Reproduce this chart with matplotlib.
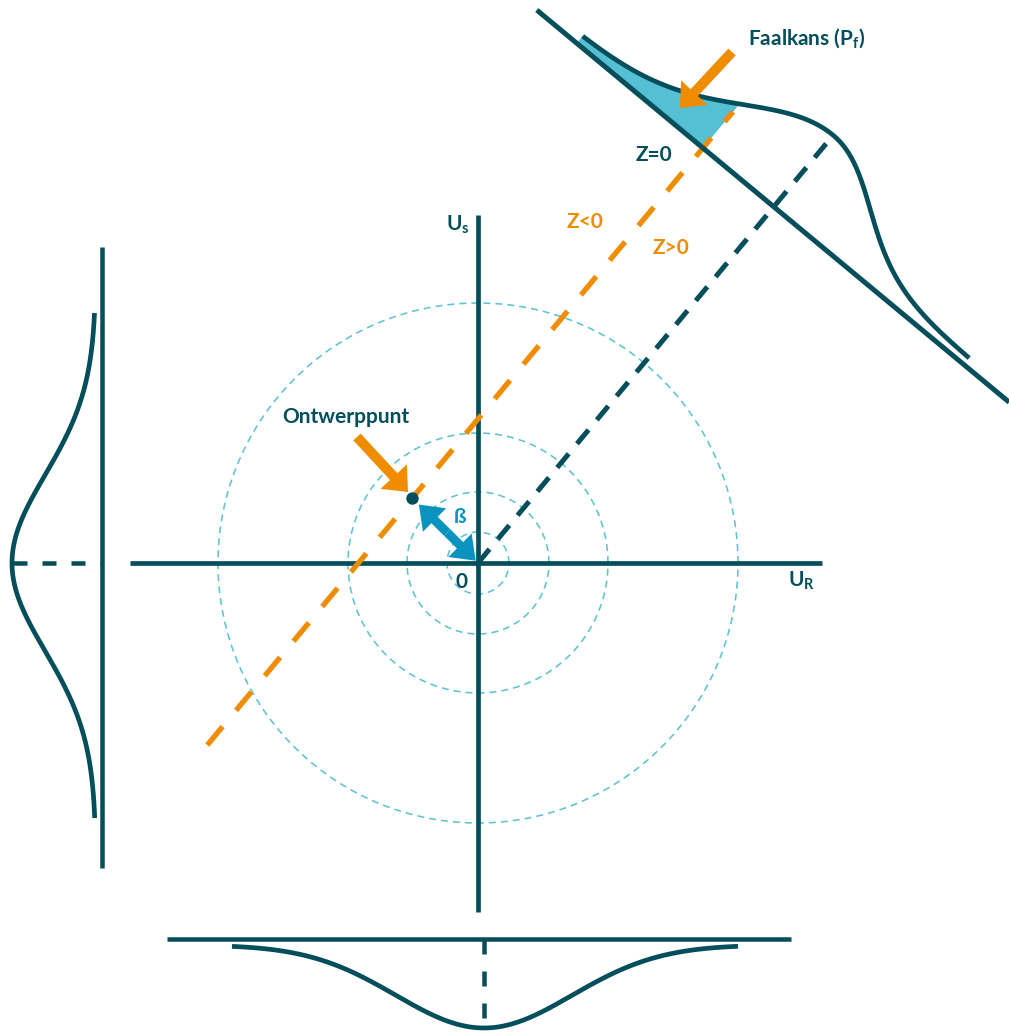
import numpy as np
import matplotlib.pyplot as plt

plt.rcParams['font.family'] = ['Lato', 'DejaVu Sans']
plt.rcParams['mathtext.fontset'] = 'custom'
plt.rcParams['mathtext.rm'] = 'Lato:bold'
plt.rcParams['mathtext.it'] = 'Lato:bold'
plt.rcParams['lines.scale_dashes'] = False

DARK = '#034e5b'
ORANGE = '#f08c00'
CYAN = '#5ec3d4'
FILL = '#55bfd3'
BLUE = '#0b93bf'

PT = 0.72  # 1 pixel in points at dpi 100

# u-space (units ~ pixels, origin = centre of the circles)
circle_radii = [31, 71, 130, 260]
axis_x_range = [-348, 344]
axis_y_range = [-349, 348]
beta = 92              # distance origin -> Z=0 line
beta_angle = 50.3      # direction of the projection line (degrees)
design_shift = 8       # design point position along the Z=0 line
z_line_range = [-313, 510]
proj_len = 555

# marginal distributions
marg_offset = 376
left_line_range = [-305, 316]
left_curve_range = [-255, 250]
bottom_line_range = [-311, 313]
bottom_curve_range = [-252, 254]
bottom_centre = 6
marg_peak = 90
marg_tail = 6
marg_sigma = 88

# rotated Z distribution
z_axis_dist = 463
z_axis_range = [-308, 306]
z_curve_range = [-256, 247]
z_peak = 93
z_tail = 8
z_sigma_left = 88
z_sigma_right = 76

# annotation arrows (tail, tip)
ontwerp_arrow = [(-121, 126), (-70, 71)]
faal_arrow = [(254, 511), (202, 455)]


def bell(x, peak, tail, sl, sr=None):
    sr = sl if sr is None else sr
    s = np.where(x < 0, sl, sr)
    return tail + (peak - tail) * np.exp(-x**2 / (2 * s**2))


fig = plt.figure(figsize=(10.09, 10.32), dpi=100)
ax = fig.add_axes([0, 0, 1, 1])
ax.set_xlim(-478, 531)
ax.set_ylim(-469, 563)
ax.axis('off')

# circles
tt = np.linspace(0, 2 * np.pi, 400)
for r in circle_radii:
    ax.plot(r * np.cos(tt), r * np.sin(tt), color=CYAN, lw=1.6 * PT,
            dashes=(7 * PT, 5 * PT), zorder=1)

# main axes
ax.plot(axis_x_range, [0, 0], color=DARK, lw=4.7 * PT, solid_capstyle='butt', zorder=3)
ax.plot([0, 0], axis_y_range, color=DARK, lw=4.7 * PT, solid_capstyle='butt', zorder=3)

# left marginal
ax.plot([-marg_offset] * 2, left_line_range, color=DARK, lw=4.5 * PT, solid_capstyle='butt')
yy = np.linspace(*left_curve_range, 300)
ax.plot(-marg_offset - bell(yy, marg_peak, marg_tail, marg_sigma), yy,
        color=DARK, lw=4.7 * PT, solid_capstyle='butt')
ax.plot([-marg_offset - marg_peak + 1, -marg_offset], [0, 0], color=DARK,
        lw=4.5 * PT, dashes=(14 * PT, 15 * PT))

# bottom marginal
ax.plot(bottom_line_range, [-marg_offset] * 2, color=DARK, lw=4.5 * PT, solid_capstyle='butt')
xx = np.linspace(*bottom_curve_range, 300)
ax.plot(xx + bottom_centre, -marg_offset - bell(xx, marg_peak - 1, marg_tail, marg_sigma),
        color=DARK, lw=4.7 * PT, solid_capstyle='butt')
ax.plot([bottom_centre] * 2, [-marg_offset, -marg_offset - marg_peak + 1], color=DARK,
        lw=4.5 * PT, dashes=(15 * PT, 17 * PT))

# rotated frame
th = np.radians(beta_angle)
n = np.array([np.cos(th), np.sin(th)])
t = np.array([np.sin(th), -np.cos(th)])


def frame(u, h):
    u = np.atleast_1d(u)[:, None]
    h = np.atleast_1d(h)[:, None]
    p = u * t + h * n
    return p[:, 0], p[:, 1]


# baseline of Z distribution
bx, by = frame(z_axis_range, [z_axis_dist, z_axis_dist])
ax.plot(bx, by, color=DARK, lw=5 * PT, solid_capstyle='butt', zorder=4)
uu = np.linspace(*z_curve_range, 400)
cx, cy = frame(uu, z_axis_dist + bell(uu, z_peak, z_tail, z_sigma_left, z_sigma_right))
ax.plot(cx, cy, color=DARK, lw=4.7 * PT, solid_capstyle='butt', zorder=4)

# failure probability area
uf = np.linspace(z_curve_range[0], -beta, 200)
fx1, fy1 = frame(uf, z_axis_dist + bell(uf, z_peak, z_tail, z_sigma_left, z_sigma_right))
fx0, fy0 = frame(uf[::-1], np.full_like(uf, z_axis_dist))
ax.fill(np.r_[fx1, fx0], np.r_[fy1, fy0], color=FILL, lw=0, zorder=2)

# Z=0 line (orange) and projection line (dark)
ox, oy = frame([-beta, -beta], z_line_range)
ax.plot(ox, oy, color=ORANGE, lw=5.3 * PT, dashes=(24 * PT, 21 * PT), zorder=3)
px_, py_ = frame([0, 0], [0, proj_len])
ax.plot(px_, py_, color=DARK, lw=5 * PT, dashes=(18 * PT, 13 * PT), zorder=3)

# design point and beta arrow
dp = -beta * t + design_shift * n
ax.plot(dp[0], dp[1], 'o', color=DARK, ms=11 * PT, zorder=6)
mid = dp * 0.47
for tip in (dp * 0.9, dp * 0.035):
    ax.arrow(mid[0], mid[1], tip[0] - mid[0], tip[1] - mid[1], width=9, head_width=33,
             head_length=22, length_includes_head=True, color=BLUE, lw=0, zorder=5)

for (x0, y0), (x1, y1) in (ontwerp_arrow, faal_arrow):
    ax.arrow(x0, y0, x1 - x0, y1 - y0, width=10, head_width=36, head_length=21,
             length_includes_head=True, color=ORANGE, lw=0, zorder=5)

# labels
fs = 15
ax.text(-132, 146, 'Ontwerppunt', color=DARK, fontsize=fs, fontweight='bold',
        ha='center', va='center')
ax.text(270, 525, 'Faalkans (P$_f$)', color=DARK, fontsize=fs, fontweight='bold',
        ha='left', va='center')
ax.text(176, 408, 'Z=0', color=DARK, fontsize=fs, fontweight='bold', ha='center', va='center')
ax.text(107, 341, 'Z<0', color=ORANGE, fontsize=fs, fontweight='bold', ha='center', va='center')
ax.text(193, 315, 'Z>0', color=ORANGE, fontsize=fs, fontweight='bold', ha='center', va='center')
ax.text(-32, 338, 'U$_s$', color=DARK, fontsize=fs, fontweight='bold', ha='left', va='center')
ax.text(310, -18, 'U$_R$', color=DARK, fontsize=fs, fontweight='bold', ha='left', va='center')
ax.text(-16, -19, '0', color=DARK, fontsize=fs, fontweight='bold', ha='center', va='center')
ax.text(-18, 46, 'ß', color=BLUE, fontsize=fs, fontweight='bold', ha='center', va='center')

fig.savefig('out.png', dpi=100, facecolor='white')
